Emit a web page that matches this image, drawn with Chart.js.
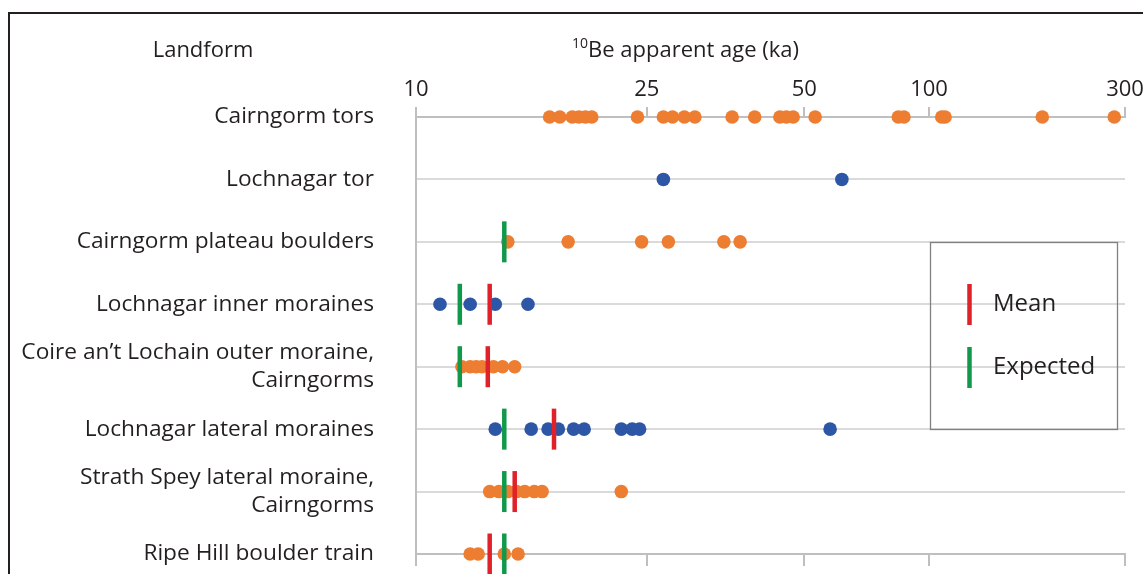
<!DOCTYPE html>
<html>
<head>
<meta charset="utf-8">
<title>10Be apparent ages by landform</title>
<script src="https://cdn.jsdelivr.net/npm/chart.js@4.4.1/dist/chart.umd.min.js"></script>
<style>
  html, body { margin: 0; padding: 0; background: #fff; }
  #wrap { width: 1143px; height: 574px; }
</style>
</head>
<body>
<div id="wrap"><canvas id="ages" width="1143" height="574"></canvas></div>
<script>
// rows, top to bottom
const landforms = [
    'Cairngorm tors',
    'Lochnagar tor',
    'Cairngorm plateau boulders',
    'Lochnagar inner moraines',
    ['Coire an\u2019t Lochain outer moraine,', 'Cairngorms'],
    'Lochnagar lateral moraines',
    ['Strath Spey lateral moraine,', 'Cairngorms'],
    'Ripe Hill boulder train'
];

const ageTicks = [10, 25, 50, 100, 300];

// sample ages (ka)
const cairngormTors = [17.0, 17.7, 18.6, 19.1, 19.6, 20.1, 24.1, 26.9, 28.0, 29.5, 30.9, 36.4, 40.2,
    44.9, 46.2, 47.6, 53.1, 84.3, 87.0, 107.4, 109.4, 188.7, 282.5];
const lochnagarTor = [26.9, 61.6];
const plateauBoulders = [14.4, 18.3, 24.5, 27.5, 35.1, 37.7];
const innerMoraines = [11.0, 12.4, 13.7, 15.6];
const coireMoraine = [12.0, 12.4, 12.7, 13.0, 13.6, 14.1, 14.8];
const lateralMoraines = [13.7, 15.8, 16.9, 17.6, 18.7, 19.5, 22.6, 23.6, 24.3, 57.7];
const strathSpey = [13.4, 13.9, 14.4, 14.9, 15.4, 16.0, 16.5, 22.6];
const ripeHill = [12.4, 12.8, 14.2, 15.0];

// which row each group sits on
const cairngormRows = [cairngormTors, null, plateauBoulders, null, coireMoraine, null, strathSpey, ripeHill];
const lochnagarRows = [null, lochnagarTor, null, innerMoraines, null, lateralMoraines, null, null];

const meanAges = [null, null, null, 13.4, 13.3, 17.3, 14.8, 13.4];
const expectedAges = [null, null, 14.2, 11.9, 11.9, 14.2, 14.2, 14.2];

const textColor = '#231f20';
const fontFamily = "'Open Sans', sans-serif";

function toPoints(rows) {
    return rows.flatMap((ages, row) => (ages || []).map(age => ({ x: age, y: row })));
}

function toMarks(ages) {
    return ages.map((age, row) => age === null ? null : { x: age, y: row }).filter(p => p);
}

// log axis whose labelled ticks are not evenly spaced in the original figure
class StretchedLogScale extends Chart.LogarithmicScale {
    static id = 'stretchedlog';
    static defaults = Chart.LogarithmicScale.defaults;

    buildTicks() {
        return this.options.tickValues.map(v => ({ value: v }));
    }

    getPixelForValue(value) {
        if (value === null || value === undefined || value <= 0) return NaN;
        const t = this.options.tickValues;
        const a = this.options.anchors;
        let i = 0;
        while (i < t.length - 2 && value > t[i + 1]) i++;
        const lo = Math.log(t[i]), hi = Math.log(t[i + 1]);
        const f = a[i] + (a[i + 1] - a[i]) * (Math.log(value) - lo) / (hi - lo);
        return this.getPixelForDecimal(f);
    }

    getValueForPixel(pixel) {
        const t = this.options.tickValues;
        const a = this.options.anchors;
        const f = this.getDecimalForPixel(pixel);
        let i = 0;
        while (i < a.length - 2 && f > a[i + 1]) i++;
        const lo = Math.log(t[i]), hi = Math.log(t[i + 1]);
        return Math.exp(lo + (hi - lo) * (f - a[i]) / (a[i + 1] - a[i]));
    }
}
Chart.register(StretchedLogScale);

const decorPlugin = {
    id: 'decor',
    afterDraw(chart) {
        const ctx = chart.ctx;
        ctx.save();

        // figure frame
        ctx.strokeStyle = textColor;
        ctx.lineWidth = 2;
        ctx.beginPath();
        ctx.moveTo(9, 574);
        ctx.lineTo(9, 13);
        ctx.lineTo(1143, 13);
        ctx.stroke();

        // column headings
        ctx.fillStyle = textColor;
        ctx.textBaseline = 'alphabetic';
        ctx.textAlign = 'center';
        ctx.font = '22px ' + fontFamily;
        ctx.fillText('Landform', 203, 57);

        ctx.textAlign = 'left';
        ctx.font = '14px ' + fontFamily;
        ctx.fillText('10', 572, 48);
        const sup = ctx.measureText('10').width;
        ctx.font = '22px ' + fontFamily;
        ctx.fillText('Be apparent age (ka)', 572 + sup, 57);

        // legend box
        ctx.strokeStyle = '#808080';
        ctx.lineWidth = 1.3;
        ctx.strokeRect(930.5, 242.5, 187, 187);

        const items = chart.data.datasets.filter(d => d.pointStyle === 'line');
        ctx.font = '24px ' + fontFamily;
        ctx.textBaseline = 'middle';
        items.forEach((d, i) => {
            const cy = 304.5 + i * 63;
            ctx.strokeStyle = d.borderColor;
            ctx.lineWidth = d.borderWidth;
            ctx.beginPath();
            ctx.moveTo(969.5, cy - 20.5);
            ctx.lineTo(969.5, cy + 20.5);
            ctx.stroke();
            ctx.fillStyle = textColor;
            ctx.fillText(d.label, 993, cy);
        });

        ctx.restore();
    }
};

const axisGrey = '#bfbfbf';

const sharedX = {
    type: 'stretchedlog',
    min: 10,
    max: 300,
    tickValues: ageTicks,
    anchors: [0, 0.3254, 0.5477, 0.7236, 1]
};

new Chart(document.getElementById('ages'), {
    type: 'scatter',
    data: {
        datasets: [
            {
                label: 'Mean',
                data: toMarks(meanAges),
                pointStyle: 'line',
                rotation: 90,
                radius: 20.5,
                borderWidth: 4.5,
                borderColor: '#e0212a',
                backgroundColor: '#e0212a',
                clip: false
            },
            {
                label: 'Expected',
                data: toMarks(expectedAges),
                pointStyle: 'line',
                rotation: 90,
                radius: 20.5,
                borderWidth: 4.5,
                borderColor: '#10994a',
                backgroundColor: '#10994a',
                clip: false
            },
            {
                label: 'Lochnagar',
                data: toPoints(lochnagarRows),
                pointRadius: 6.8,
                borderWidth: 0,
                backgroundColor: '#2e56a6',
                clip: false
            },
            {
                label: 'Cairngorms',
                data: toPoints(cairngormRows),
                pointRadius: 6.8,
                borderWidth: 0,
                backgroundColor: '#ed7d31',
                clip: false
            }
        ]
    },
    options: {
        responsive: false,
        animation: false,
        events: [],
        layout: { autoPadding: false, padding: { left: 0, top: 0, right: 18, bottom: 0 } },
        plugins: {
            legend: { display: false },
            tooltip: { enabled: false }
        },
        scales: {
            x: Object.assign({}, sharedX, {
                position: 'top',
                grid: { drawOnChartArea: false, drawTicks: true, tickLength: 10, color: axisGrey, lineWidth: 2 },
                border: { display: true, color: axisGrey, width: 2 },
                ticks: {
                    autoSkip: false,
                    maxRotation: 0,
                    padding: 4,
                    color: textColor,
                    font: { size: 22, family: fontFamily },
                    callback: v => String(v)
                },
                afterFit: s => { s.height = 117; s.paddingLeft = 0; s.paddingRight = 0; }
            }),
            x2: Object.assign({}, sharedX, {
                position: 'bottom',
                grid: { drawOnChartArea: false, drawTicks: true, tickLength: 12, color: axisGrey, lineWidth: 2 },
                border: { display: true, color: axisGrey, width: 2 },
                ticks: { display: false },
                afterFit: s => { s.height = 20; s.paddingLeft = 0; s.paddingRight = 0; }
            }),
            y: {
                type: 'linear',
                reverse: true,
                min: 0,
                max: landforms.length - 1,
                grid: { drawTicks: false, tickLength: 0, color: '#dadada', lineWidth: 2 },
                border: { display: true, color: axisGrey, width: 2 },
                ticks: {
                    stepSize: 1,
                    padding: 42,
                    color: textColor,
                    font: { size: 22.7, family: fontFamily, lineHeight: 1.22 },
                    callback: v => landforms[v]
                },
                afterFit: s => { s.width = 416; s.paddingTop = 0; s.paddingBottom = 0; }
            }
        }
    },
    plugins: [decorPlugin]
});
</script>
</body>
</html>
